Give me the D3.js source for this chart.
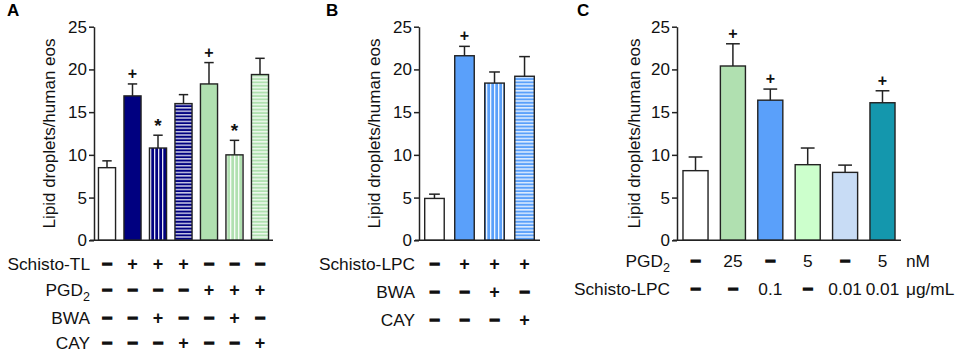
<!DOCTYPE html>
<html>
<head>
<meta charset="utf-8">
<script src="https://cdn.jsdelivr.net/npm/d3@7"></script>
<style>
  body { margin: 0; background: #fff; }
  svg { display: block; font-family: "Liberation Sans", Arial, sans-serif; }
</style>
</head>
<body>
<div id="chart"></div>
<script>
// ---- data ----
const yTicks = [0, 5, 10, 15, 20, 25];

// panel A
const aMeans = [8.5, 16.9, 10.8, 16.0, 18.3, 10.0, 19.4];
const aErr   = [0.8, 1.4, 1.5, 1.05, 2.5, 1.7, 1.9];
const aFills = ["#ffffff", "#000080", "vnavy", "hnavy", "#b0e0b0", "vgreen", "hgreen"];
const aMarks = ["", "+", "*", "", "+", "*", ""];
const aRowLabels = ["Schisto-TL", "PGD2", "BWA", "CAY"];
const aRows = [
  ["−", "+", "+", "+", "−", "−", "−"],
  ["−", "−", "−", "−", "+", "+", "+"],
  ["−", "−", "+", "−", "−", "+", "−"],
  ["−", "−", "−", "+", "−", "−", "+"]
];

// panel B
const bMeans = [4.9, 21.6, 18.4, 19.2];
const bErr   = [0.5, 1.1, 1.3, 2.3];
const bFills = ["#ffffff", "#5aa0fa", "vblue", "hblue"];
const bMarks = ["", "+", "", ""];
const bRowLabels = ["Schisto-LPC", "BWA", "CAY"];
const bRows = [
  ["−", "+", "+", "+"],
  ["−", "−", "+", "−"],
  ["−", "−", "−", "+"]
];

// panel C
const cMeans = [8.15, 20.4, 16.4, 8.85, 7.95, 16.1];
const cErr   = [1.6, 2.6, 1.3, 1.95, 0.85, 1.4];
const cFills = ["#ffffff", "#b0e0b0", "#5aa0fa", "#ccffcc", "#c8dcf5", "#1497ad"];
const cMarks = ["", "+", "+", "", "", "+"];
const cRowLabels = ["PGD2", "Schisto-LPC"];
const cRows = [
  ["−", "25", "−", "5", "−", "5"],
  ["−", "−", "0.1", "−", "0.01", "0.01"]
];
const cUnits = ["nM", "μg/mL"];

const W = 957, H = 353;
const svg = d3.select("#chart").append("svg").attr("width", W).attr("height", H);
const defs = svg.append("defs");

// striped fills
function stripes(id, color, vertical) {
  const p = defs.append("pattern").attr("id", id).attr("patternUnits", "userSpaceOnUse")
    .attr("width", vertical ? 4 : 3.4).attr("height", 3.4);
  p.append("rect").attr("width", 4).attr("height", 4).attr("fill", color);
  if (vertical) p.append("rect").attr("x", 2).attr("width", 1.3).attr("height", 4).attr("fill", "#fff").attr("opacity", 0.9);
  else p.append("rect").attr("y", 1.8).attr("width", 4).attr("height", 1.3).attr("fill", "#fff").attr("opacity", 0.9);
}
stripes("vnavy", "#000080", true);
stripes("hnavy", "#000080", false);
stripes("vgreen", "#b0e0b0", true);
stripes("hgreen", "#b0e0b0", false);
stripes("vblue", "#5aa0fa", true);
stripes("hblue", "#5aa0fa", false);

const fillOf = f => f.startsWith("#") ? f : `url(#${f})`;

const y = d3.scaleLinear().domain([0, 25]).range([240.3, 26.7]);

function label(g, x, yy, txt, anchor) {
  const t = g.append("text").attr("x", x).attr("y", yy).attr("text-anchor", anchor)
    .attr("font-size", 17.3).attr("fill", "#111");
  if (txt === "PGD2") {
    t.append("tspan").text("PGD");
    t.append("tspan").attr("dy", 5).attr("font-size", 12.5).text("2");
  } else t.text(txt);
}

function panel(o) {
  const g = svg.append("g");
  const x = d3.scaleBand().domain(d3.range(o.means.length))
    .range(o.xr).paddingInner(o.pi).paddingOuter(o.po);

  // panel letter
  g.append("text").attr("x", o.letterX).attr("y", 16).attr("font-size", 17)
    .attr("font-weight", "bold").text(o.letter);

  // y title
  g.append("text")
    .attr("transform", `translate(${o.titleX},${(y(0) + y(25)) / 2}) rotate(-90)`)
    .attr("text-anchor", "middle").attr("font-size", 17).attr("fill", "#111")
    .text("Lipid droplets/human eos");

  // bars
  g.selectAll("rect.bar").data(o.means).join("rect").attr("class", "bar")
    .attr("x", (d, i) => x(i)).attr("width", x.bandwidth())
    .attr("y", d => y(d)).attr("height", d => y(0) - y(d))
    .attr("fill", (d, i) => fillOf(o.fills[i]))
    .attr("stroke", "#222").attr("stroke-width", 1.4);

  // error bars (upper only)
  const cap = x.bandwidth() * 0.55;
  o.means.forEach((m, i) => {
    const cx = x(i) + x.bandwidth() / 2;
    g.append("line").attr("x1", cx).attr("x2", cx).attr("y1", y(m)).attr("y2", y(m + o.err[i]))
      .attr("stroke", "#222").attr("stroke-width", 1.5);
    g.append("line").attr("x1", cx - cap / 2).attr("x2", cx + cap / 2)
      .attr("y1", y(m + o.err[i])).attr("y2", y(m + o.err[i]))
      .attr("stroke", "#222").attr("stroke-width", 1.5);
    if (o.marks[i]) {
      g.append("text").attr("x", cx).attr("y", y(m + o.err[i]) - (o.marks[i] === "*" ? 3 : 5))
        .attr("text-anchor", "middle").attr("font-size", o.marks[i] === "*" ? 19 : 16)
        .attr("font-weight", "bold").attr("fill", "#111").text(o.marks[i]);
    }
  });

  // axes
  const ax = g.append("g").attr("transform", `translate(${o.xr[0]},0)`)
    .call(d3.axisLeft(y).tickValues(yTicks).tickSize(5).tickSizeOuter(0).tickPadding(2));
  ax.select(".domain").attr("stroke", "#222").attr("stroke-width", 1.5);
  ax.selectAll(".tick line").attr("stroke", "#222").attr("stroke-width", 1.5);
  ax.selectAll(".tick text").attr("font-size", 17).attr("fill", "#111")
    .attr("font-family", "Liberation Sans, Arial, sans-serif");
  g.append("line").attr("x1", o.xr[0] - 4).attr("x2", o.xr[1]).attr("y1", y(0)).attr("y2", y(0))
    .attr("stroke", "#222").attr("stroke-width", 1.5);

  // condition table
  o.rows.forEach((row, r) => {
    const cy = o.rowY[r];
    label(g, o.labelX, cy + 6, o.rowLabels[r], "end");
    row.forEach((s, i) => {
      const cx = x(i) + x.bandwidth() / 2;
      const sym = s === "+" || s === "−";
      g.append("text").attr("x", cx).attr("y", cy + (sym ? 5.5 : 6)).attr("text-anchor", "middle")
        .attr("font-size", sym ? 18 : 17.3).attr("font-weight", sym ? "bold" : "normal")
        .attr("stroke", s === "−" ? "#111" : "none").attr("stroke-width", 1.3)
        .attr("fill", "#111").text(s);
    });
    if (o.units) label(g, o.unitX, cy + 6, o.units[r], "start");
  });
}

panel({ letter: "A", letterX: 7, titleX: 55, means: aMeans, err: aErr, fills: aFills, marks: aMarks,
  xr: [94, 273], pi: 0.33, po: 0.175, rows: aRows, rowLabels: aRowLabels,
  rowY: [264, 290, 318, 343], labelX: 90 });

panel({ letter: "B", letterX: 326, titleX: 380, means: bMeans, err: bErr, fills: bFills, marks: bMarks,
  xr: [419, 540], pi: 0.35, po: 0.19, rows: bRows, rowLabels: bRowLabels,
  rowY: [264, 292, 320], labelX: 415 });

panel({ letter: "C", letterX: 577, titleX: 640, means: cMeans, err: cErr, fills: cFills, marks: cMarks,
  xr: [677, 901], pi: 0.33, po: 0.16, rows: cRows, rowLabels: cRowLabels,
  rowY: [261, 289], labelX: 670, units: cUnits, unitX: 906 });
</script>
</body>
</html>
